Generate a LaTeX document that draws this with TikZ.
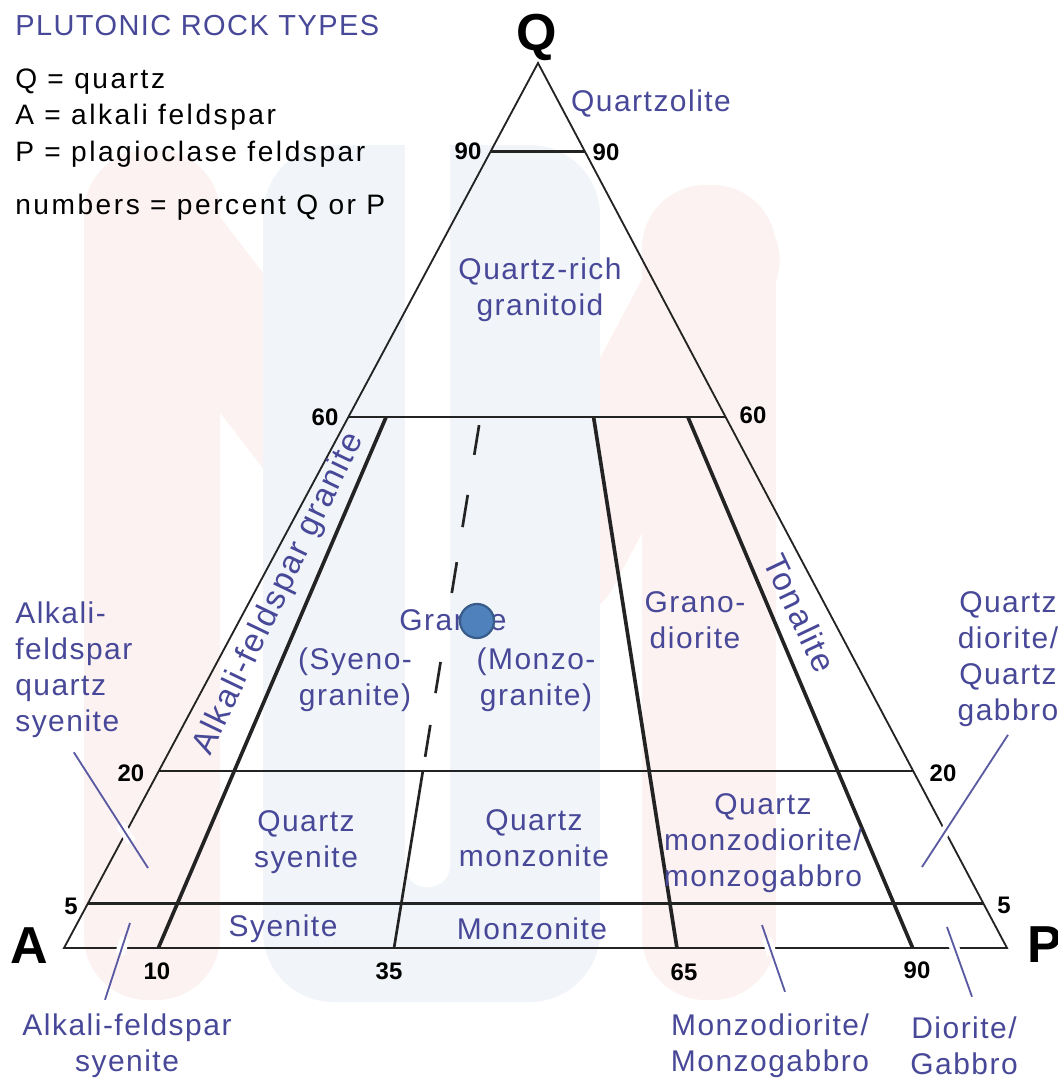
\documentclass[tikz,border=0pt]{standalone}
\usepackage{fontspec}
\setmainfont{Liberation Sans}
\newfontfamily\lblfont[LetterSpace=5]{Liberation Sans}
\newfontfamily\legfont[LetterSpace=9]{Liberation Sans}
\usetikzlibrary{calc,positioning}

\definecolor{lblblue}{RGB}{72,72,152}
\definecolor{linegray}{RGB}{35,35,35}
\definecolor{wmpink}{RGB}{253,242,242}
\definecolor{wmblue}{RGB}{241,245,249}
\definecolor{dotfill}{HTML}{4F81BD}
\definecolor{dotedge}{HTML}{385D8A}

\tikzset{
  rock/.style={text=lblblue, font=\lblfont\fontsize{21.3}{25.6}\selectfont, align=center, inner sep=0pt},
  slanted/.style={rock, font=\lblfont\fontsize{23.5}{25.6}\selectfont},
  tick/.style={font=\bfseries\fontsize{17}{17}\selectfont, inner sep=0pt},
  corner/.style={font=\bfseries\fontsize{37}{37}\selectfont, inner sep=0pt},
  legend/.style={font=\legfont\fontsize{20}{24}\selectfont, anchor=west, inner sep=0pt},
  edge/.style={draw=linegray, line width=1.3pt, line join=miter},
  field/.style={draw=linegray, line width=2.6pt},
  level/.style={draw=linegray, line width=1.9pt},
  pointer/.style 2 args={draw=lblblue!90, line width=1.3pt,
    preaction={draw=white, line width=7pt, shorten <=#1, shorten >=#2}},
  dot/.style={circle, fill=dotfill, draw=dotedge, line width=1.6pt, minimum size=0.85cm, inner sep=0pt}
}

\begin{document}
\begin{tikzpicture}[x=0.025cm, y=-0.025cm]
\useasboundingbox (0,0) rectangle (1058,1078);
% faint logo behind the chart
\fill[wmpink, rounded corners=45pt] (84,150) rectangle (220,1000);
\draw[wmpink, line width=85pt, line cap=round] (170,250) -- (440,600);
\fill[wmpink, rounded corners=45pt] (642,185) rectangle (776,1000);
\draw[wmpink, line width=85pt, line cap=round] (720,260) -- (560,560);
\fill[wmblue, rounded corners=50pt] (263,145) rectangle (600,1002);
\fill[white, rounded corners=15pt] (405,120) rectangle (450,887);

% triangle and field boundaries
\coordinate (Q) at (538,63);
\coordinate (A) at (64,948);
\coordinate (P) at (1007,948);
\draw[edge] (A) -- (Q) -- (P) -- cycle;
\foreach \q in {0.9,0.6,0.2,0.05}
  \draw[level] ($(A)!\q!(Q)$) -- ($(P)!\q!(Q)$);
\foreach \p/\name in {0.10/b10,0.35/b35,0.65/b65,0.90/b90}
  \coordinate (\name) at ($(A)!\p!(P)$);
\foreach \name in {b10,b65,b90}
  \draw[field] (\name) -- ($(\name)!0.6!(Q)$);
\coordinate (d20) at ($(b35)!0.2!(Q)$);
\coordinate (d60) at ($(b35)!0.6!(Q)$);
\draw[level] (b35) -- (d20);
\foreach \s/\e in {0.023/0.107,0.220/0.311,0.410/0.497,0.692/0.780,0.870/0.960}
  \draw[level] ($(d60)!\s!(d20)$) -- ($(d60)!\e!(d20)$);

% legend
\node[legend, text=lblblue, font=\lblfont\fontsize{20.6}{24}\selectfont] (title) at (15,26) {PLUTONIC ROCK TYPES};
\node[legend] (legq) at (15,82) {Q = quartz};
\node[legend] (lega) at (15,117) {A = alkali feldspar};
\node[legend] (legp) at (15,154) {P = plagioclase feldspar};
\node[legend] (legn) at (15,207) {numbers = percent Q or P};

% corners and percentages
\node[corner] (qlab) at (537,37) {Q};
\node[corner] (alab) at (29,946) {A};
\node[corner] (plab) at (1045,945) {P};
\node[tick] (q90l) at (468,151) {90};
\node[tick] (q90r) at (606,152) {90};
\node[tick] (q60l) at (325,417) {60};
\node[tick] (q60r) at (753,415) {60};
\node[tick] (q20l) at (131,773) {20};
\node[tick] (q20r) at (943,773) {20};
\node[tick] (q5l) at (71,906) {5};
\node[tick] (q5r) at (1004,905) {5};
\node[tick] (p10) at (157,971) {10};
\node[tick] (p35) at (389,971) {35};
\node[tick] (p65) at (684,972) {65};
\node[tick] (p90) at (917,970) {90};

% rock names
\node[rock] (quartzolite) at (651,103) {Quartzolite};
\node[rock] (qrich) at (540,290) {Quartz-rich\\granitoid};
\node[slanted, rotate=64.3] (afgranite) at (279,594) {Alkali-feldspar granite};
\node[rock] (granite) at (453,620) {Granite};
\node[rock] (syenogr) at (355,680) {(Syeno-\\granite)};
\node[rock] (monzogr) at (536,680) {(Monzo-\\granite)};
\node[rock] (granodior) at (695,620) {Grano-\\diorite};
\node[slanted, rotate=-64.5] (tonalite) at (800,613) {Tonalite};
\node[rock] (qsyenite) at (306,842) {Quartz\\syenite};
\node[rock] (qmonzonite) at (534,838) {Quartz\\monzonite};
\node[rock] (qmonzodior) at (763,843) {Quartz\\monzodiorite/\\monzogabbro};
\node[rock] (syenite) at (283,929) {Syenite};
\node[rock] (monzonite) at (532,929) {Monzonite};
\node[rock, align=left, anchor=west] (afqs) at (15,670) {Alkali-\\feldspar\\quartz\\syenite};
\node[rock] (qdior) at (1008,659) {Quartz\\diorite/\\Quartz\\gabbro};
\node[rock] (afs) at (127,1046) {Alkali-feldspar\\syenite};
\node[rock] (monzodior) at (770,1046) {Monzodiorite/\\Monzogabbro};
\node[rock] (diorite) at (964,1046) {Diorite/\\Gabbro};
\node[dot] (marker) at (477,621) {};

% pointers to the narrow fields
\coordinate (afqs-tip) at (148,868);
\coordinate (afs-tip) at (130,923);
\coordinate (qdior-tip) at (922,867);
\coordinate (monzodior-tip) at (762,925);
\coordinate (diorite-tip) at (947,927);
\draw[pointer={61pt}{22pt}] ([shift={(0,14)}]afqs.south) -- (afqs-tip);
\draw[pointer={34pt}{11pt}] ([shift={(-22,-14)}]afs.north) -- (afs-tip);
\draw[pointer={73pt}{23pt}] ([shift={(0,8)}]qdior.south) -- (qdior-tip);
\draw[pointer={28pt}{10pt}] ([shift={(15,-22)}]monzodior.north) -- (monzodior-tip);
\draw[pointer={30pt}{8.5pt}] ([shift={(8,-20)}]diorite.north) -- (diorite-tip);
\end{tikzpicture}
\end{document}
